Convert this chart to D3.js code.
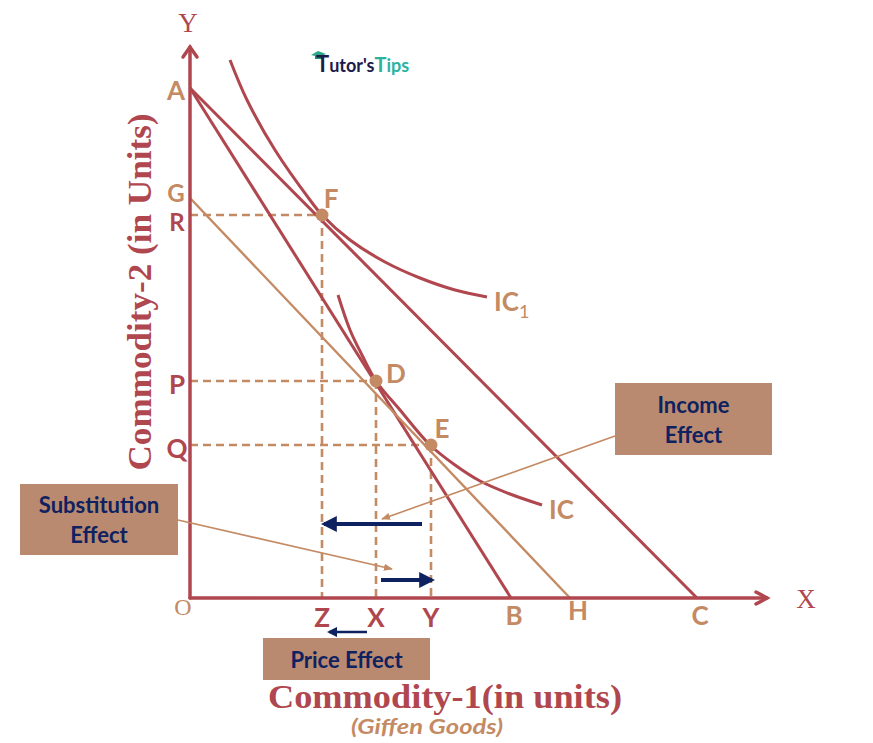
<!DOCTYPE html>
<html><head><meta charset="utf-8">
<script src="https://cdn.jsdelivr.net/npm/d3@7"></script>
<style>body{margin:0;background:#fff}svg{display:block}</style>
</head><body>
<script>
// ---- data (units on the two commodity axes) ----
const axisEnd = {x: 11.54, y: 11.02};
const budgetLines = [
  {name: "AB", from: [0, 10.2], to: [6.42, 0], kind: "red"},
  {name: "AC", from: [0, 10.2], to: [10.14, 0], kind: "red"},
  {name: "GH", from: [0, 8.0], to: [7.6, 0], kind: "tan"}
];
const ic1Points = [[0.8,10.76],[1.14,9.96],[1.7,8.96],[2.4,7.96],[2.64,7.66],[3.2,7.16],[3.9,6.72],[4.6,6.4],[5.3,6.16],[5.94,6.02]];
const icPoints  = [[2.96,6.06],[3.2,5.36],[3.44,4.86],[3.72,4.34],[4.2,3.76],[4.8,3.06],[5.3,2.66],[5.8,2.34],[6.4,2.08],[7.04,1.86]];
const eqPoints = [
  {name: "F", x: 2.64, y: 7.66, xLab: "Z", yLab: "R"},
  {name: "D", x: 3.72, y: 4.34, xLab: "X", yLab: "P"},
  {name: "E", x: 4.82, y: 3.06, xLab: "Y", yLab: "Q"}
];
const yAxisLetters = [{t:"A", y:10.2}, {t:"G", y:8.0}];
const xAxisLetters = [{t:"B", x:6.42}, {t:"H", x:7.6}, {t:"C", x:10.14}];

const RED = "#b0474f", TAN = "#c48a63", BOX = "#b98a6f", NAVY = "#0e2160";
const W = 873, H = 743;
const svg = d3.select("body").append("svg").attr("width", W).attr("height", H);

const x = d3.scaleLinear().domain([0, 10]).range([190, 690]);
const y = d3.scaleLinear().domain([0, 10]).range([598, 98]);

// defs: arrowheads
const defs = svg.append("defs");
defs.append("marker").attr("id","navyHead").attr("viewBox","0 0 10 10").attr("refX",8).attr("refY",5)
  .attr("markerWidth",4).attr("markerHeight",4).attr("orient","auto-start-reverse")
  .append("path").attr("d","M0,0 L10,5 L0,10 z").attr("fill",NAVY);
defs.append("marker").attr("id","tanHead").attr("viewBox","0 0 10 10").attr("refX",9).attr("refY",5)
  .attr("markerWidth",9).attr("markerHeight",9).attr("markerUnits","userSpaceOnUse").attr("orient","auto")
  .append("path").attr("d","M0,1 L10,5 L0,9 z").attr("fill",TAN);

// dashed guides
const g = svg.append("g");
eqPoints.forEach(p => {
  g.append("line").attr("x1", x(0)).attr("y1", y(p.y)).attr("x2", x(p.x)).attr("y2", y(p.y))
    .attr("stroke", TAN).attr("stroke-width", 2.6).attr("stroke-dasharray", "8,5");
  g.append("line").attr("x1", x(p.x)).attr("y1", y(p.y)).attr("x2", x(p.x)).attr("y2", y(0))
    .attr("stroke", TAN).attr("stroke-width", 2.6).attr("stroke-dasharray", "8,5");
});

// budget lines
budgetLines.forEach(l => {
  g.append("line").attr("x1", x(l.from[0])).attr("y1", y(l.from[1])).attr("x2", x(l.to[0])).attr("y2", y(l.to[1]))
    .attr("stroke", l.kind === "red" ? RED : TAN).attr("stroke-width", l.kind === "red" ? 3 : 2.4);
});

// indifference curves
const curve = d3.line().x(d => x(d[0])).y(d => y(d[1])).curve(d3.curveCatmullRom.alpha(0.5));
[ic1Points, icPoints].forEach(pts => {
  g.append("path").attr("d", curve(pts)).attr("fill","none").attr("stroke", RED).attr("stroke-width", 3);
});

// axes
const ax = svg.append("g").attr("stroke", RED).attr("stroke-width", 3.5).attr("fill","none").attr("stroke-linecap","round");
ax.append("line").attr("x1", x(0)).attr("y1", y(0)).attr("x2", x(0)).attr("y2", y(axisEnd.y));
ax.append("line").attr("x1", x(0)).attr("y1", y(0)).attr("x2", x(axisEnd.x)).attr("y2", y(0));
ax.append("path").attr("d", `M${x(0)-7},${y(axisEnd.y)+10} L${x(0)},${y(axisEnd.y)} L${x(0)+7},${y(axisEnd.y)+10}`);
ax.append("path").attr("d", `M${x(axisEnd.x)-11},${y(0)-6} L${x(axisEnd.x)},${y(0)} L${x(axisEnd.x)-11},${y(0)+6}`);

// points
eqPoints.forEach(p => {
  svg.append("circle").attr("cx", x(p.x)).attr("cy", y(p.y)).attr("r", 6.5).attr("fill", TAN);
});

// letter labels
const lf = "Lato, 'Open Sans', sans-serif";
function letter(t, cx, cy, col, size) {
  return svg.append("text").attr("x", cx).attr("y", cy).attr("text-anchor","middle").attr("dominant-baseline","central")
    .attr("font-family", lf).attr("font-weight","bold").attr("font-size", size || 26).attr("fill", col).text(t);
}
yAxisLetters.forEach(d => letter(d.t, 176, y(d.y) + (d.t==="G" ? -6 : 2), TAN, d.t==="G" ? 24 : 26));
eqPoints.forEach(p => {
  letter(p.yLab, 177, y(p.y) + (p.yLab==="R" ? 6 : 3), RED, p.yLab==="R" ? 24 : 26);
  letter(p.xLab, x(p.x), 617, RED);
});
letter("F", 331, 198, TAN);
letter("D", 396, 373, TAN);
letter("E", 442, 428, TAN);
xAxisLetters.forEach(d => letter(d.t, x(d.x) + (d.t==="H" ? 8 : 3), d.t==="H" ? 610 : 615, TAN));
letter("O", 183, 607, TAN, 24).attr("font-family", "'Liberation Serif', serif").attr("font-weight","normal");

// IC labels
const ic1 = svg.append("text").attr("x", 494).attr("y", 311).attr("font-family", lf).attr("font-weight","bold").attr("font-size", 26).attr("fill", TAN);
ic1.append("tspan").text("IC");
ic1.append("tspan").attr("font-size", 18).attr("font-weight","normal").attr("dy", 7).text("1");
svg.append("text").attr("x", 549).attr("y", 519).attr("font-family", lf).attr("font-weight","bold").attr("font-size", 26).attr("fill", TAN).text("IC");

// axis letters
svg.append("text").attr("x", 188).attr("y", 32).attr("text-anchor","middle").attr("font-family","'Liberation Serif', serif")
  .attr("font-size", 27).attr("fill", RED).text("Y");
svg.append("text").attr("x", 806).attr("y", 608).attr("text-anchor","middle").attr("font-family","'Liberation Serif', serif")
  .attr("font-size", 27).attr("fill", RED).text("X");

// axis titles
svg.append("text").attr("transform","translate(151,292) rotate(-90)").attr("text-anchor","middle")
  .attr("font-family","'Liberation Serif', serif").attr("font-weight","bold").attr("font-size", 34).attr("fill", RED)
  .attr("textLength", 357).attr("lengthAdjust","spacingAndGlyphs")
  .text("Commodity-2 (in Units)");
svg.append("text").attr("x", 445).attr("y", 708).attr("text-anchor","middle")
  .attr("font-family","'Liberation Serif', serif").attr("font-weight","bold").attr("font-size", 34).attr("fill", RED)
  .attr("textLength", 354).attr("lengthAdjust","spacingAndGlyphs")
  .text("Commodity-1(in units)");
svg.append("text").attr("x", 427).attr("y", 734).attr("text-anchor","middle")
  .attr("font-family", lf).attr("font-style","italic").attr("font-weight","bold").attr("font-size", 21).attr("fill", TAN)
  .attr("textLength", 152).attr("lengthAdjust","spacingAndGlyphs")
  .text("(Giffen Goods)");

// effect boxes
const boxes = [
  {lines:["Substitution","Effect"], x0:20, y0:484, w:158, h:71},
  {lines:["Income","Effect"], x0:615, y0:383, w:157, h:72},
  {lines:["Price Effect"], x0:263, y0:638, w:167, h:42}
];
boxes.forEach(b => {
  svg.append("rect").attr("x", b.x0).attr("y", b.y0).attr("width", b.w).attr("height", b.h).attr("fill", BOX);
  const n = b.lines.length;
  b.lines.forEach((t, i) => {
    svg.append("text").attr("x", b.x0 + b.w/2).attr("y", b.y0 + b.h/2 + (i - (n-1)/2) * 30)
      .attr("text-anchor","middle").attr("dominant-baseline","central")
      .attr("font-family", lf).attr("font-weight","bold").attr("font-size", 22).attr("fill", NAVY).text(t);
  });
});

// leader lines
svg.append("line").attr("x1", 178).attr("y1", 520).attr("x2", 392).attr("y2", 569)
  .attr("stroke", TAN).attr("stroke-width", 1.6).attr("marker-end","url(#tanHead)");
svg.append("line").attr("x1", 615).attr("y1", 436).attr("x2", 382).attr("y2", 519)
  .attr("stroke", TAN).attr("stroke-width", 1.6).attr("marker-end","url(#tanHead)");

// navy effect arrows
function navyArrow(x1, y1, x2, y2, w) {
  svg.append("line").attr("x1", x1).attr("y1", y1).attr("x2", x2).attr("y2", y2)
    .attr("stroke", NAVY).attr("stroke-width", w).attr("marker-end","url(#navyHead)");
}
navyArrow(422, 524, 324, 524, 4);
navyArrow(381, 580, 432, 580, 4);
navyArrow(367, 632, 329, 632, 2.6);

// logo
const logo = svg.append("g");
logo.append("path").attr("d","M311,55 L318,51 L326,54 L319,57 z").attr("fill","#2aa889");
logo.append("path").attr("d","M315,56 L315,59 L322,59 L322,56 z").attr("fill","#1f8f70");
const lt = logo.append("text").attr("x", 316).attr("y", 72).attr("font-family", lf).attr("font-weight","bold").attr("font-size", 18);
lt.append("tspan").attr("fill","#1d1b4c").attr("font-size", 22).text("T");
lt.append("tspan").attr("fill","#1d1b4c").text("utor's");
lt.append("tspan").attr("fill","#2bb3a0").attr("font-size", 20).text("T");
lt.append("tspan").attr("fill","#2bb3a0").text("ips");
</script>
</body></html>
